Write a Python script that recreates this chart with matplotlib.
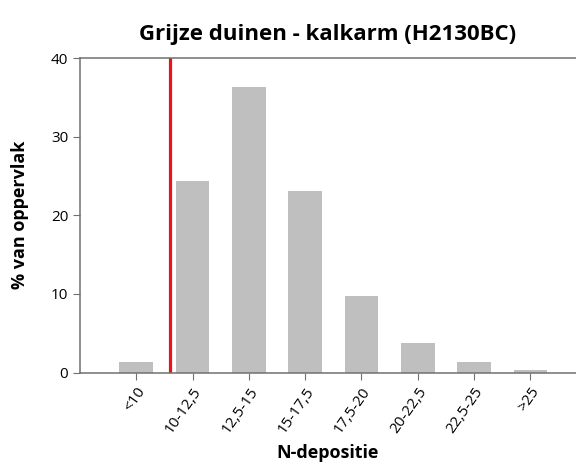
import matplotlib.pyplot as plt
import numpy as np

plt.rcParams['font.family'] = ['Open Sans', 'DejaVu Sans']

# klassen en aandeel oppervlak
categories = ['<10', '10-12,5', '12,5-15', '15-17,5', '17,5-20', '20-22,5', '22,5-25', '>25']
values = [1.3, 24.4, 36.3, 23.1, 9.7, 3.7, 1.3, 0.3]
kdw_pos = 0.59  # positie kritische depositiewaarde op de klasse-as

fig = plt.figure(figsize=(5.76, 4.74), dpi=100)
ax = fig.add_axes([80 / 576, 1 - 372.5 / 474, 496 / 576, 314.5 / 474])

x = np.arange(len(categories))
ax.bar(x, values, width=0.6, color='#bfbfbf')
ax.axvline(kdw_pos, color='#e8141c', linewidth=2.3)

ax.set_xlim(-1, 7.81)
ax.set_ylim(0, 40)
ax.set_yticks([0, 10, 20, 30, 40])
ax.set_xticks(x)
ax.set_xticklabels(categories, rotation=55, ha='right', rotation_mode='anchor')

for s in ['left', 'bottom', 'top']:
    ax.spines[s].set_color('#707070')
    ax.spines[s].set_linewidth(1.1)
ax.spines['right'].set_visible(False)
ax.tick_params(colors='#707070', labelcolor='black', labelsize=11, length=5)

ax.set_title('Grijze duinen - kalkarm (H2130BC)', fontsize=16, fontweight='bold', pad=13)
ax.set_xlabel('N-depositie', fontsize=13, fontweight='bold', labelpad=6)
ax.set_ylabel('% van oppervlak', fontsize=13, fontweight='bold', labelpad=16)

fig.savefig('out.png', dpi=100)
